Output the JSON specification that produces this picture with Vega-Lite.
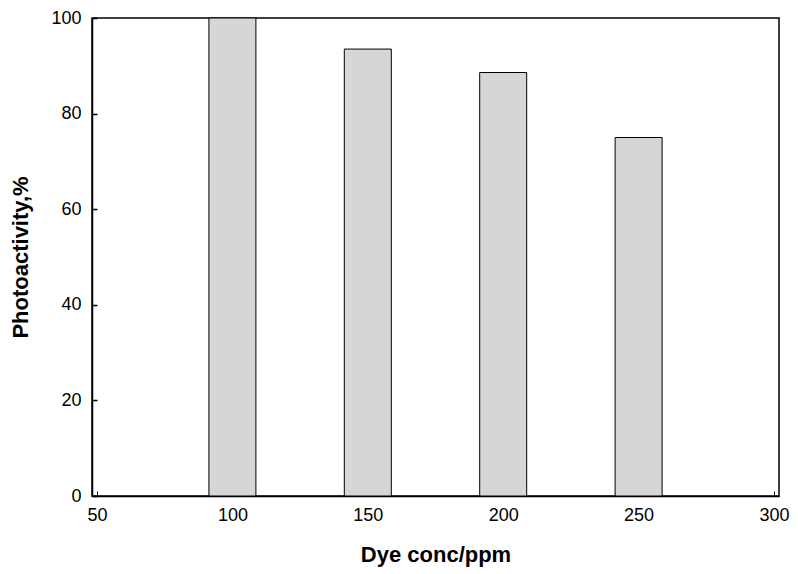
{
  "$schema": "https://vega.github.io/schema/vega-lite/v6.json",
  "width": 687,
  "height": 478,
  "autosize": {"type": "none"},
  "padding": {"left": 92, "top": 18, "right": 19, "bottom": 78},
  "background": "white",
  "config": {
    "view": {"stroke": "black", "strokeWidth": 1.5},
    "font": "Liberation Sans"
  },
  "data": {
    "values": [
      {"conc": 100, "activity": 100},
      {"conc": 150, "activity": 93.5},
      {"conc": 200, "activity": 88.6},
      {"conc": 250, "activity": 75.0}
    ]
  },
  "mark": {"type": "bar", "size": 47, "fill": "#d6d6d6", "stroke": "black", "strokeWidth": 1},
  "encoding": {
    "x": {
      "field": "conc",
      "type": "quantitative",
      "scale": {"domain": [50, 300], "nice": false, "zero": false},
      "axis": {
        "values": [50, 100, 150, 200, 250, 300],
        "title": "Dye conc/ppm",
        "titleFontSize": 22,
        "titleFontWeight": "bold",
        "titleColor": "black",
        "titlePadding": 20,
        "labelFontSize": 18,
        "labelColor": "black",
        "labelPadding": 15,
        "tickSize": -5,
        "tickColor": "black",
        "domainColor": "black",
        "domainWidth": 1.5,
        "grid": false,
        "labelFlush": false
      }
    },
    "y": {
      "field": "activity",
      "type": "quantitative",
      "scale": {"domain": [0, 100], "nice": false},
      "axis": {
        "values": [0, 20, 40, 60, 80, 100],
        "title": "Photoactivity,%",
        "titleFontSize": 22,
        "titleFontWeight": "bold",
        "titleColor": "black",
        "titlePadding": 18,
        "labelFontSize": 18,
        "labelColor": "black",
        "labelPadding": 16,
        "tickSize": -5,
        "tickColor": "black",
        "tickWidth": 1.5,
        "domainColor": "black",
        "domainWidth": 1.5,
        "grid": false,
        "labelFlush": false
      }
    }
  }
}
